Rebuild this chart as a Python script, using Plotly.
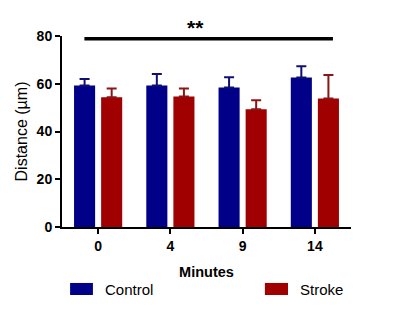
import plotly.graph_objects as go

minutes = ["0", "4", "9", "14"]
control_mean = [59.3, 59.3, 58.4, 62.6]
control_err = [2.7, 4.8, 4.3, 4.7]
stroke_mean = [54.3, 54.7, 49.3, 53.8]
stroke_err = [3.7, 3.3, 3.8, 9.9]
y_ticks = [0, 20, 40, 60, 80]
sig_label = "**"
sig_level = 78.8
series_names = ["Control", "Stroke"]

FONT = "Liberation Sans, Arial, sans-serif"
BLUE = "#000088"
RED = "#A00000"

fig = go.Figure()
fig.add_trace(go.Bar(
    x=minutes, y=control_mean, name=series_names[0],
    marker=dict(color=BLUE, line=dict(width=0)),
    error_y=dict(type="data", array=control_err, arrayminus=[0]*4, symmetric=False,
                 color="#101070", thickness=2, width=5),
))
fig.add_trace(go.Bar(
    x=minutes, y=stroke_mean, name=series_names[1],
    marker=dict(color=RED, line=dict(width=0)),
    error_y=dict(type="data", array=stroke_err, arrayminus=[0]*4, symmetric=False,
                 color="#8a1515", thickness=2, width=5),
))

fig.add_shape(type="line", xref="x", yref="y", x0=-0.19, x1=3.25, y0=sig_level, y1=sig_level,
              line=dict(color="black", width=3.5))
fig.add_annotation(text=sig_label, xref="x", yref="paper", x=1.35, y=1.115,
                   showarrow=False, font=dict(family=FONT, size=21, color="black", weight="bold"))

# custom legend (wide swatches as in the reference)
legend_items = [(series_names[0], BLUE, 0.028, 0.107, 0.142),
                (series_names[1], RED, 0.702, 0.782, 0.817)]
for name, col, sx0, sx1, tx in legend_items:
    fig.add_shape(type="rect", xref="paper", yref="paper", x0=sx0, x1=sx1, y0=-0.356, y1=-0.293,
                  fillcolor=col, line=dict(width=0))
    fig.add_annotation(text=name, xref="paper", yref="paper", x=tx, y=-0.325,
                       xanchor="left", yanchor="middle", showarrow=False,
                       font=dict(family=FONT, size=15, color="black"))

# page body has an 8px default margin; size the figure to fit the window
fig.update_layout(
    width=387, height=305,
    margin=dict(l=54, r=44, t=28, b=86),
    paper_bgcolor="white", plot_bgcolor="white",
    barmode="group", bargap=0.25, bargroupgap=0.222,
    font=dict(family=FONT, color="black"),
    showlegend=False,
)
fig.update_xaxes(
    type="category", range=[-0.5, 3.5],
    showline=True, linecolor="black", linewidth=2,
    ticks="outside", ticklen=5, tickwidth=2, tickcolor="black",
    tickfont=dict(family=FONT, size=14, color="black", weight="bold"),
    title=dict(text="Minutes", font=dict(family=FONT, size=14.5, color="black", weight="bold"), standoff=14),
    showgrid=False, zeroline=False, automargin=False,
)
fig.update_yaxes(
    range=[0, 80], tickvals=y_ticks,
    showline=True, linecolor="black", linewidth=2,
    ticks="outside", ticklen=5, tickwidth=2, tickcolor="black",
    tickfont=dict(family=FONT, size=14, color="black", weight="bold"),
    title=dict(text="Distance (µm)", font=dict(family=FONT, size=16, color="black"), standoff=5),
    showgrid=False, zeroline=False, automargin=False,
)

fig.write_html("out.html")
